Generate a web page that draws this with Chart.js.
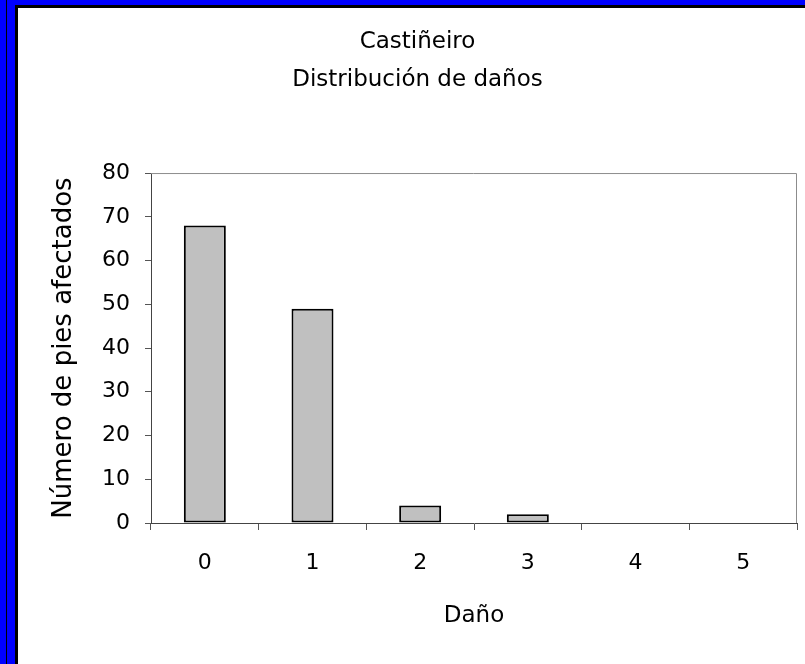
<!DOCTYPE html>
<html>
<head>
<meta charset="utf-8">
<script src="https://cdn.jsdelivr.net/npm/chart.js@4/dist/chart.umd.min.js"></script>
<style>
  html, body { margin: 0; padding: 0; background: #fff; }
  body { width: 805px; height: 664px; position: relative; overflow: hidden; }
  .edge { position: absolute; }
  #wrap { position: absolute; left: 18px; top: 8px; width: 787px; height: 656px; }
</style>
</head>
<body>
<div class="edge" style="left:0;top:0;width:805px;height:5px;background:#0000ff"></div>
<div class="edge" style="left:0;top:0;width:15px;height:664px;background:#0000ff"></div>
<div class="edge" style="left:6px;top:0;width:1px;height:664px;background:#000"></div>
<div class="edge" style="left:15px;top:5px;width:3px;height:659px;background:#000"></div>
<div class="edge" style="left:15px;top:5px;width:790px;height:3px;background:#000"></div>
<div id="wrap"><canvas id="c"></canvas></div>
<script>
// datos del gráfico
const categorias = ['0', '1', '2', '3', '4', '5'];
const piesAfectados = [68, 49, 4, 2, 0, 0];
const tituloLineas = ['Castiñeiro', 'Distribución de daños'];
const ejeX = 'Daño';
const ejeY = 'Número de pies afectados';

const FONT = 'DejaVu Sans';

// borde gris arriba y a la derecha del área de trazado (estilo Excel)
const marcoArea = {
  id: 'marcoArea',
  beforeDatasetsDraw(chart) {
    const {ctx, chartArea: a} = chart;
    ctx.save();
    ctx.strokeStyle = '#8c8c8c';
    ctx.lineWidth = 1;
    ctx.beginPath();
    ctx.moveTo(a.left, a.top + 0.5);
    ctx.lineTo(a.right - 0.5, a.top + 0.5);
    ctx.lineTo(a.right - 0.5, a.bottom);
    ctx.stroke();
    ctx.restore();
  }
};

new Chart(document.getElementById('c'), {
  type: 'bar',
  data: {
    labels: categorias,
    datasets: [{
      data: piesAfectados,
      backgroundColor: '#c0c0c0',
      borderColor: '#000',
      borderWidth: 2,
      borderSkipped: false,
      barPercentage: 0.39,
      categoryPercentage: 1
    }]
  },
  options: {
    responsive: true,
    maintainAspectRatio: false,
    animation: false,
    layout: { padding: { left: 20, right: 8, top: 0, bottom: 0 } },
    plugins: {
      legend: { display: false },
      tooltip: { enabled: false },
      title: {
        display: true,
        text: tituloLineas,
        color: '#000',
        font: { family: FONT, size: 23, weight: 'normal', lineHeight: 1.61 },
        padding: { top: 16, bottom: 75 }
      }
    },
    scales: {
      x: {
        offset: true,
        grid: { display: true, offset: true, drawOnChartArea: false, tickLength: 7, color: '#555' },
        border: { color: '#444', width: 1 },
        ticks: { color: '#000', padding: 20, font: { family: FONT, size: 22 } },
        title: {
          display: true, text: ejeX, color: '#000',
          font: { family: FONT, size: 23 },
          padding: { top: 0, bottom: 34 }
        },
        afterFit(s) { s.height = 141; }
      },
      y: {
        min: 0,
        max: 80,
        ticks: { stepSize: 10, color: '#000', padding: 15, font: { family: FONT, size: 22 } },
        grid: { display: true, drawOnChartArea: false, tickLength: 6, color: '#555' },
        border: { color: '#444', width: 1 },
        title: {
          display: true, text: ejeY, color: '#000',
          font: { family: FONT, size: 26 },
          padding: { top: 11, bottom: 0 }
        },
        afterFit(s) { s.width = 113; }
      }
    }
  },
  plugins: [marcoArea]
});
</script>
</body>
</html>
